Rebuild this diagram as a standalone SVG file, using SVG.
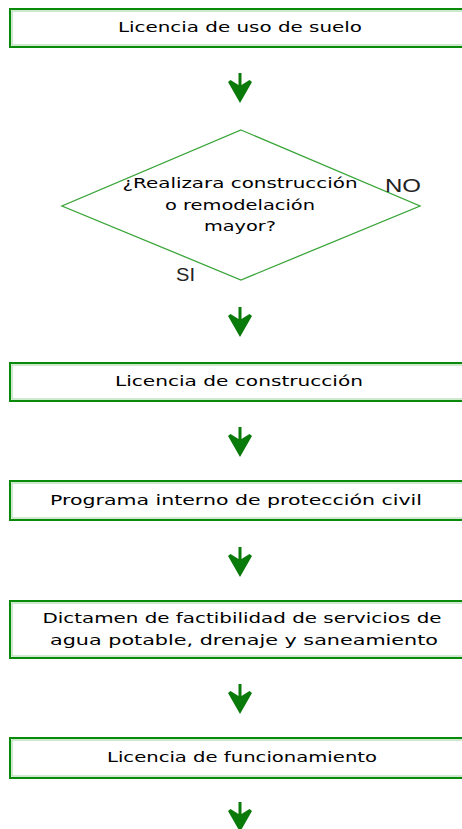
<svg xmlns="http://www.w3.org/2000/svg" width="462" height="829" viewBox="0 0 462 829">
<style>
.box{fill:#fff;stroke:#0a8a0a;stroke-width:2}
.inner{fill:none;stroke:#9fd49f;stroke-width:1}
.t{font-family:"DejaVu Sans",Verdana,sans-serif;font-size:13.5px;fill:#000;text-anchor:middle}
.lbl{font-family:"Liberation Sans",Arial,sans-serif;font-size:19px;fill:#222}
.dia{fill:none;stroke:#3aa53a;stroke-width:1.3}
.arr{fill:#0a7a0a}
</style>
<defs>
<path id="arrow" class="arr" d="M-1.5,0 H1.5 V12 L9.5,7 L12,9 L0,30 L-12,9 L-9.5,7 L-1.5,12 Z"/>
</defs>
<g id="n1">
<rect class="box" x="10" y="9" width="470" height="38"/>
<rect class="inner" x="12" y="11" width="466" height="34"/>
<text class="t" x="240" y="32" textLength="244" lengthAdjust="spacingAndGlyphs">Licencia de uso de suelo</text>
</g>
<g id="n2">
<polygon class="dia" points="241,130 420,206 241,280 62,206"/>
<text class="t" x="240" y="188" textLength="235" lengthAdjust="spacingAndGlyphs">¿Realizara construcción</text>
<text class="t" x="240" y="210" textLength="150" lengthAdjust="spacingAndGlyphs">o remodelación</text>
<text class="t" x="240" y="231" textLength="72" lengthAdjust="spacingAndGlyphs">mayor?</text>
</g>
<g id="n3">
<rect class="box" x="10" y="363" width="470" height="38"/>
<rect class="inner" x="12" y="365" width="466" height="34"/>
<text class="t" x="239" y="386" textLength="248" lengthAdjust="spacingAndGlyphs">Licencia de construcción</text>
</g>
<g id="n4">
<rect class="box" x="10" y="481" width="470" height="39"/>
<rect class="inner" x="12" y="483" width="466" height="35"/>
<text class="t" x="236" y="505" textLength="372" lengthAdjust="spacingAndGlyphs">Programa interno de protección civil</text>
</g>
<g id="n5">
<rect class="box" x="10" y="601" width="470" height="57"/>
<rect class="inner" x="12" y="603" width="466" height="53"/>
<text class="t" x="242" y="623" textLength="399" lengthAdjust="spacingAndGlyphs">Dictamen de factibilidad de servicios de</text>
<text class="t" x="244" y="645" textLength="388" lengthAdjust="spacingAndGlyphs">agua potable, drenaje y saneamiento</text>
</g>
<g id="n6">
<rect class="box" x="10" y="738" width="470" height="40"/>
<rect class="inner" x="12" y="740" width="466" height="36"/>
<text class="t" x="242" y="762" textLength="270" lengthAdjust="spacingAndGlyphs">Licencia de funcionamiento</text>
</g>
<g id="connectors">
<use href="#arrow" x="240" y="73"/>
<use href="#arrow" x="240" y="307"/>
<use href="#arrow" x="240" y="427"/>
<use href="#arrow" x="240" y="547"/>
<use href="#arrow" x="240" y="684"/>
<use href="#arrow" x="240" y="802"/>
<text class="lbl" x="385" y="192" textLength="36" lengthAdjust="spacingAndGlyphs">NO</text>
<text class="lbl" x="176" y="281" textLength="19" lengthAdjust="spacingAndGlyphs">SI</text>
</g>
</svg>
